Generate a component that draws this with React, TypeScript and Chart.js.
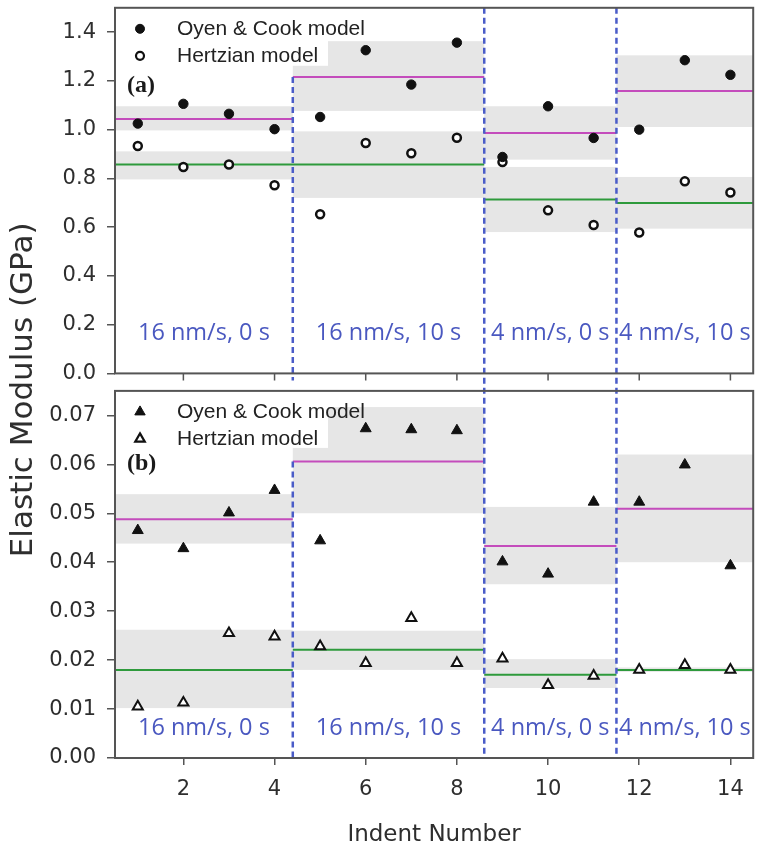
import React, { useEffect, useRef } from 'react';
import { Chart, registerables } from 'chart.js';

Chart.register(...registerables);

// ---------- data ----------
const indents = [1, 2, 3, 4, 5, 6, 7, 8, 9, 10, 11, 12, 13, 14];
const oyenA = [1.025, 1.106, 1.065, 1.002, 1.052, 1.326, 1.185, 1.357, 0.888, 1.096, 0.966, 1.0, 1.285, 1.225];
const hertzA = [0.933, 0.847, 0.857, 0.772, 0.653, 0.945, 0.903, 0.967, 0.867, 0.669, 0.609, 0.578, 0.788, 0.742];
const oyenB = [0.0465, 0.0428, 0.0501, 0.0547, 0.0444, 0.0673, 0.0671, 0.0669, 0.0401, 0.0376, 0.0523, 0.0523, 0.0599, 0.0393];
const hertzB = [0.0105, 0.0113, 0.0255, 0.0248, 0.0228, 0.0194, 0.0286, 0.0194, 0.0203, 0.0149, 0.0168, 0.018, 0.019, 0.018];

const segStart = [0.5, 4.4, 8.6, 11.5];
const segEnd = [4.4, 8.6, 11.5, 14.5];
const segLabels = ['16 nm/s, 0 s', '16 nm/s, 10 s', '4 nm/s, 0 s', '4 nm/s, 10 s'];

const meanOyenA = [1.044, 1.216, 0.986, 1.159];
const lowOyenA = [0.997, 1.077, 0.877, 1.011];
const highOyenA = [1.096, 1.363, 1.096, 1.305];
const meanHertzA = [0.857, 0.857, 0.713, 0.699];
const lowHertzA = [0.796, 0.72, 0.58, 0.594];
const highHertzA = [0.911, 0.993, 0.847, 0.806];

const meanOyenB = [0.0488, 0.0606, 0.0433, 0.0509];
const lowOyenB = [0.0438, 0.05, 0.0355, 0.04];
const highOyenB = [0.0539, 0.0717, 0.0513, 0.062];
const meanHertzB = [0.018, 0.0221, 0.017, 0.018];
const lowHertzB = [0.0102, 0.018, 0.0143, 0.0176];
const highHertzB = [0.0262, 0.026, 0.0202, 0.0185];

const dividerX = [4.4, 8.6, 11.5];
const dividerTopA = [1.216, 1.5, 1.5];
const dividerTopB = [0.0606, 0.075, 0.075];

const xTicks = [2, 4, 6, 8, 10, 12, 14];
const yTicksA = [0, 0.2, 0.4, 0.6, 0.8, 1.0, 1.2, 1.4];
const yTicksB = [0, 0.01, 0.02, 0.03, 0.04, 0.05, 0.06, 0.07];

const legendLabels = ['Oyen & Cook model', 'Hertzian model'];
const panelLabels = ['(a)', '(b)'];
const yTitle = 'Elastic Modulus (GPa)';
const xTitle = 'Indent Number';

// ---------- styles ----------
const MAGENTA = '#c44cbc';
const GREEN = '#2e9a3c';
const BAND = '#e6e6e6';
const DIVIDER = '#4a5cc8';
const SECTION = '#4a58c0';
const AXIS = '#555555';
const TEXT = '#2e2e2e';
const MARK = '#111111';
const SANS = '"DejaVu Sans"';

const pts = (ys: number[]) => indents.map((x, i) => ({ x, y: ys[i] }));
const segs = (means: number[]) => {
  const out: { x: number; y: number | null }[] = [];
  means.forEach((m, i) => {
    out.push({ x: segStart[i], y: m }, { x: segEnd[i], y: m }, { x: segEnd[i], y: null });
  });
  return out;
};

const triPath = (ctx: CanvasRenderingContext2D, x: number, y: number, r: number) => {
  ctx.beginPath();
  for (let k = 0; k < 3; k++) {
    const a = (k * 2 * Math.PI) / 3;
    const px = x + Math.sin(a) * r;
    const py = y - Math.cos(a) * r;
    if (k === 0) ctx.moveTo(px, py);
    else ctx.lineTo(px, py);
  }
  ctx.closePath();
};

const panelPlugin = {
  id: 'panelPlugin',
  beforeDatasetsDraw(chart: any) {
    const { ctx } = chart;
    const x = chart.scales.x;
    const yA = chart.scales.yA;
    const yB = chart.scales.yB;
    ctx.save();
    ctx.fillStyle = BAND;
    const bands = (y: any, lows: number[], highs: number[]) => {
      for (let i = 0; i < segStart.length; i++) {
        const l = x.getPixelForValue(segStart[i]);
        const r = x.getPixelForValue(segEnd[i]);
        const t = y.getPixelForValue(highs[i]);
        const b = y.getPixelForValue(lows[i]);
        ctx.fillRect(l, t, r - l, b - t);
      }
    };
    bands(yA, lowOyenA, highOyenA);
    bands(yA, lowHertzA, highHertzA);
    bands(yB, lowOyenB, highOyenB);
    bands(yB, lowHertzB, highHertzB);
    // legend backgrounds
    ctx.fillStyle = '#ffffff';
    ctx.fillRect(x.left, yA.top, 213, 58);
    ctx.fillRect(x.left, yB.top, 213, 57);
    ctx.restore();
  },
  afterDatasetsDraw(chart: any) {
    const { ctx } = chart;
    const x = chart.scales.x;
    const yA = chart.scales.yA;
    const yB = chart.scales.yB;
    ctx.save();
    ctx.strokeStyle = DIVIDER;
    ctx.lineWidth = 2.5;
    ctx.setLineDash([6, 4]);
    for (let i = 0; i < dividerX.length; i++) {
      const px = x.getPixelForValue(dividerX[i]);
      const tA = yA.getPixelForValue(dividerTopA[i]);
      const tB = yB.getPixelForValue(dividerTopB[i]);
      ctx.beginPath();
      if (dividerTopB[i] >= yB.max) {
        ctx.moveTo(px, tA);
        ctx.lineTo(px, yB.bottom);
      } else {
        ctx.moveTo(px, tA);
        ctx.lineTo(px, yA.bottom + 7);
        ctx.moveTo(px, tB);
        ctx.lineTo(px, yB.bottom);
      }
      ctx.stroke();
    }
    ctx.restore();
  },
  afterDraw(chart: any) {
    const { ctx } = chart;
    const x = chart.scales.x;
    const yA = chart.scales.yA;
    const yB = chart.scales.yB;
    ctx.save();
    // frames
    ctx.strokeStyle = AXIS;
    ctx.lineWidth = 2;
    ctx.strokeRect(x.left, yA.top, x.right - x.left, yA.bottom - yA.top);
    ctx.strokeRect(x.left, yB.top, x.right - x.left, yB.bottom - yB.top);
    // tick marks under top panel
    ctx.lineWidth = 1.5;
    ctx.beginPath();
    for (const t of xTicks) {
      const px = x.getPixelForValue(t);
      ctx.moveTo(px, yA.bottom);
      ctx.lineTo(px, yA.bottom + 7);
    }
    ctx.stroke();

    // legends
    const legend = (top: number, tri: boolean) => {
      const rows = [top + 21, top + 48];
      ctx.font = `21px "Liberation Sans"`;
      ctx.textAlign = 'left';
      ctx.textBaseline = 'middle';
      rows.forEach((ry, k) => {
        const mx = x.left + 25;
        ctx.lineWidth = k === 0 ? 1 : 2.2;
        ctx.strokeStyle = MARK;
        ctx.fillStyle = k === 0 ? MARK : '#ffffff';
        if (tri) {
          triPath(ctx, mx, ry, k === 0 ? 6 : 5.5);
        } else {
          ctx.beginPath();
          ctx.arc(mx, ry, k === 0 ? 4.5 : 4, 0, Math.PI * 2);
        }
        ctx.fill();
        ctx.stroke();
        ctx.fillStyle = '#222222';
        ctx.fillText(legendLabels[k], x.left + 62, ry);
      });
    };
    legend(yA.top, false);
    legend(yB.top, true);

    // panel labels
    ctx.fillStyle = '#1a1a1a';
    ctx.font = `bold 24px "Liberation Serif"`;
    ctx.textAlign = 'left';
    ctx.textBaseline = 'middle';
    ctx.fillText(panelLabels[0], x.left + 12, yA.top + 78);
    ctx.fillText(panelLabels[1], x.left + 12, yB.top + 73);

    // section labels
    ctx.fillStyle = SECTION;
    ctx.font = `23.5px "Open Sans"`;
    ctx.textAlign = 'center';
    ctx.textBaseline = 'middle';
    for (let i = 0; i < segLabels.length; i++) {
      const cx = (x.getPixelForValue(segStart[i]) + x.getPixelForValue(segEnd[i])) / 2;
      ctx.fillText(segLabels[i], cx, yA.bottom - 40);
      ctx.fillText(segLabels[i], cx, yB.bottom - 30);
    }

    // y title
    ctx.fillStyle = TEXT;
    ctx.font = `31px ${SANS}`;
    ctx.textAlign = 'center';
    ctx.textBaseline = 'alphabetic';
    ctx.translate(32, (yA.top + yB.bottom) / 2 + 7);
    ctx.rotate(-Math.PI / 2);
    ctx.fillText(yTitle, 0, 0);
    ctx.restore();
  },
};

const tickFont = { family: 'DejaVu Sans', size: 21 };

const yScale = (ticks: number[], max: number, weight: number, stackWeight: number, digits: number) => ({
  type: 'linear',
  axis: 'y',
  position: 'left',
  stack: 'panels',
  stackWeight,
  weight,
  min: 0,
  max,
  border: { display: false },
  grid: { drawOnChartArea: false, drawTicks: true, tickLength: 8, color: AXIS, lineWidth: 1.5 },
  ticks: {
    font: tickFont,
    color: TEXT,
    padding: 11,
    callback: (v: any) => Number(v).toFixed(digits),
  },
  afterBuildTicks: (s: any) => {
    s.ticks = ticks.map((value) => ({ value }));
  },
  afterFit: (s: any) => {
    s.width = 107;
    s.paddingTop = 0;
    s.paddingBottom = 0;
  },
});

export default function App() {
  const ref = useRef<HTMLCanvasElement | null>(null);

  useEffect(() => {
    if (!ref.current) return;
    const chart = new Chart(ref.current, {
      type: 'line',
      data: {
        datasets: [
          {
            data: pts(oyenA), xAxisID: 'x', yAxisID: 'yA', showLine: false,
            pointStyle: 'circle', pointRadius: 4.7, pointBorderWidth: 1,
            pointBackgroundColor: MARK, pointBorderColor: MARK,
          },
          {
            data: pts(hertzA), xAxisID: 'x', yAxisID: 'yA', showLine: false,
            pointStyle: 'circle', pointRadius: 4, pointBorderWidth: 2.5,
            pointBackgroundColor: '#ffffff', pointBorderColor: MARK,
          },
          {
            data: pts(oyenB), xAxisID: 'x', yAxisID: 'yB', showLine: false,
            pointStyle: 'triangle', pointRadius: 6.3, pointBorderWidth: 1,
            pointBackgroundColor: MARK, pointBorderColor: MARK,
          },
          {
            data: pts(hertzB), xAxisID: 'x', yAxisID: 'yB', showLine: false,
            pointStyle: 'triangle', pointRadius: 5.8, pointBorderWidth: 2,
            pointBackgroundColor: '#ffffff', pointBorderColor: MARK,
          },
          { data: segs(meanOyenA), xAxisID: 'x', yAxisID: 'yA', borderColor: MAGENTA, borderWidth: 2, pointRadius: 0, spanGaps: false },
          { data: segs(meanHertzA), xAxisID: 'x', yAxisID: 'yA', borderColor: GREEN, borderWidth: 2, pointRadius: 0, spanGaps: false },
          { data: segs(meanOyenB), xAxisID: 'x', yAxisID: 'yB', borderColor: MAGENTA, borderWidth: 2, pointRadius: 0, spanGaps: false },
          { data: segs(meanHertzB), xAxisID: 'x', yAxisID: 'yB', borderColor: GREEN, borderWidth: 2, pointRadius: 0, spanGaps: false },
        ] as any,
      },
      options: {
        responsive: false,
        devicePixelRatio: 1,
        animation: false,
        events: [],
        layout: { padding: { left: 8, right: 2, top: 7, bottom: 0 } },
        plugins: { legend: { display: false }, tooltip: { enabled: false } },
        scales: {
          x: {
            type: 'linear',
            axis: 'x',
            position: 'bottom',
            min: 0.5,
            max: 14.5,
            border: { display: false },
            grid: { drawOnChartArea: false, drawTicks: true, tickLength: 7, color: AXIS, lineWidth: 1.5 },
            ticks: { font: tickFont, color: TEXT, padding: 12, maxRotation: 0 },
            afterBuildTicks: (s: any) => {
              s.ticks = xTicks.map((value) => ({ value }));
            },
            afterFit: (s: any) => {
              s.height = 92;
              s.paddingLeft = 0;
              s.paddingRight = 0;
            },
            title: {
              display: true,
              text: xTitle,
              color: TEXT,
              font: { family: 'DejaVu Sans', size: 23 },
              padding: { top: 0, bottom: 1 },
            },
          },
          yA: yScale(yTicksA, 1.5, 3, 366, 1),
          gap: {
            type: 'linear', axis: 'y', position: 'left', stack: 'panels',
            stackWeight: 17.5, weight: 2, display: false, min: 0, max: 1,
          },
          yB: yScale(yTicksB, 0.075, 1, 367.5, 2),
        } as any,
      },
      plugins: [panelPlugin],
    });
    return () => chart.destroy();
  }, []);

  return (
    <div style={{ position: 'absolute', left: 0, top: 0, width: 761, height: 850, background: '#ffffff' }}>
      <canvas ref={ref} width={761} height={850} style={{ display: 'block' }} />
    </div>
  );
}
